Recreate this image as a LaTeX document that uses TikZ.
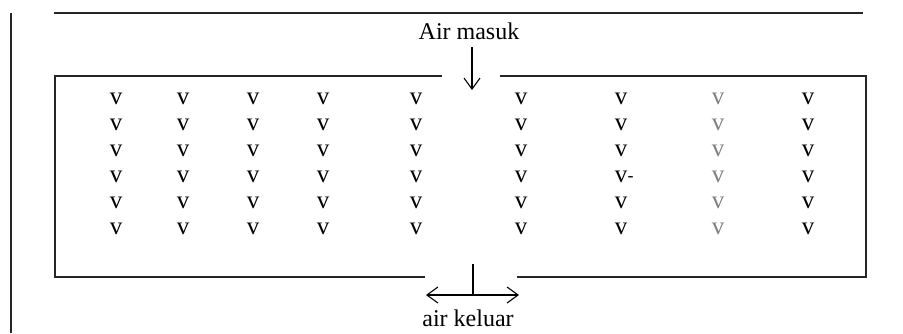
\documentclass[tikz,border=0pt]{standalone}
\usepackage{fontspec}
\setmainfont{Liberation Serif}
\usetikzlibrary{arrows.meta}
\begin{document}
\begin{tikzpicture}[x=1pt,y=-1pt,
  wall/.style={line width=1.4pt,black!85},
  flow/.style={line width=1.1pt,-{Straight Barb[length=11pt,width=16pt,line width=1.1pt]}},
  lbl/.style={font=\fontsize{24}{26}\selectfont,inner sep=0pt},
  vmark/.style={font=\fontsize{25}{27}\selectfont,inner sep=0pt}]
\useasboundingbox (0,0) rectangle (903,333);
% frame lines
\coordinate (vt) at (11,13);
\coordinate (vb) at (11,333);
\draw[wall] (vt) -- (vb);
\coordinate (tl) at (54,13);
\coordinate (tr) at (863,13);
\draw[wall] (tl) -- (tr);
% box with openings
\coordinate (g1) at (442,76);
\coordinate (g2) at (500,76);
\coordinate (g3) at (517,277);
\coordinate (g4) at (425,277);
\draw[wall] (g1) -- (55,76) -- (55,277) -- (g4);
\draw[wall] (g2) -- (866,76) -- (866,277) -- (g3);
% inlet
\node[lbl] (in) at (469,31) {Air masuk};
\coordinate (inA) at (472,47);
\coordinate (inB) at (472,90);
\draw[flow] (inA) -- (inB);
% outlet
\coordinate (tk1) at (473,264);
\coordinate (tk2) at (473,295);
\draw[line width=1.1pt] (tk1) -- (tk2);
\coordinate (oL) at (426,295);
\coordinate (oR) at (519,295);
\draw[flow] (tk2) -- (oL);
\draw[flow] (tk2) -- (oR);
\node[lbl] (out) at (468,318) {air keluar};
% v marks
\foreach \c/\x in {1/116,2/183,3/253,4/323,5/416,6/521,7/621,9/808}{
  \foreach \r/\y in {1/99,2/125,3/151,4/177,5/203,6/229}{
    \node[vmark] (v\c\r) at (\x,\y) {v};
  }
}
\foreach \r/\y in {1/99,2/125,3/151,4/177,5/203,6/229}{
  \node[vmark,text=black!50] (v8\r) at (718,\y) {v};
}
\node[vmark,anchor=west,inner sep=0pt,font=\fontsize{18}{20}\selectfont] (dash) at ([yshift=-2pt]v74.east) {-};
\end{tikzpicture}
\end{document}
